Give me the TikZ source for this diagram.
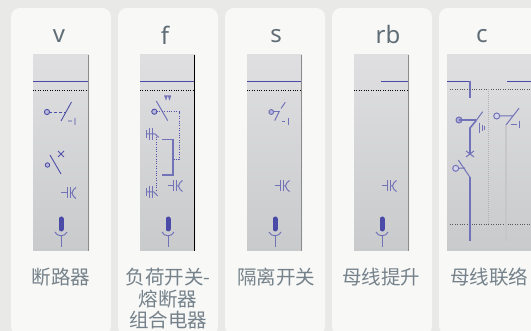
\documentclass[tikz,border=0pt]{standalone}
\usepackage{fontspec}
\setmainfont{Noto Sans}
\newfontfamily\cjk{Noto Sans CJK SC}
\definecolor{pagebg}{HTML}{E9EAE7}
\definecolor{cardbg}{HTML}{F8F8F6}
\definecolor{titlec}{HTML}{5F6D76}
\definecolor{labelc}{HTML}{75828B}
\definecolor{busc}{HTML}{4A4AA8}
\definecolor{symc}{HTML}{4F4FA8}
\definecolor{palec}{HTML}{7272B8}
\definecolor{paneltop}{HTML}{DFDFE2}
\definecolor{panelbot}{HTML}{C9CACC}
\tikzset{
	card/.style={fill=cardbg,rounded corners=9pt,minimum width=100pt,minimum height=327pt,inner sep=0pt},
	panel/.style={top color=paneltop,bottom color=panelbot,minimum height=196pt,inner sep=0pt},
	title/.style={text=titlec,font=\fontsize{24}{26}\selectfont},
	label/.style={text=labelc,align=center,font=\cjk\fontsize{19.5}{21.5}\selectfont},
	sym/.style={draw=symc,line width=0.9pt},
	pale/.style={draw=palec,line width=1pt},
	dots/.style={line width=0.9pt,dash pattern=on 1pt off 1.4pt},
	busline/.style={draw=busc,line width=1.1pt}
}
\newcommand{\capsym}[2]{
	\begin{scope}[shift={(#1,#2)}]
		\draw[pale] (0,0) -- (6,0) (6,-5.5) -- (6,5.5) (9,-5.5) -- (9,5.5);
		\draw[pale] (9,0) -- (11,0) .. controls (12,-3) .. (15,-5.5) (11,0) .. controls (12,3) .. (15,5.5);
	\end{scope}}
\newcommand{\micsym}[1]{
	\begin{scope}[shift={(#1,0)}]
		\draw[busc,line width=5pt,line cap=round] (0,219) -- (0,229);
		\draw[pale] (-6,232) .. controls (-4,237) and (4,237) .. (6,232);
		\draw[pale] (0,235) -- (0,247);
	\end{scope}}
\begin{document}
\begin{tikzpicture}[x=1pt,y=-1pt]
	\useasboundingbox (0,0) rectangle (531,331);
	\clip (0,0) rectangle (531,331);
	\fill[pagebg] (0,0) rectangle (531,331);
	% cards
	\node[card] (cardv) at (61,171.5) {};
	\node[card] (cardf) at (168,171.5) {};
	\node[card] (cards) at (275,171.5) {};
	\node[card] (cardrb) at (382,171.5) {};
	\node[card] (cardc) at (489,171.5) {};
	% panels
	\node[panel,minimum width=56pt] (panelv) at (61,153) {};
	\node[panel,minimum width=55pt] (panelf) at (167.5,153) {};
	\node[panel,minimum width=55pt] (panels) at (274.5,153) {};
	\node[panel,minimum width=55pt] (panelrb) at (381.5,153) {};
	\node[panel,minimum width=90pt] (panelc) at (492,153) {};
	\draw[black!45,line width=1pt] (88.5,55) -- (88.5,251);
	\draw[black,line width=1pt] (194.5,55) -- (194.5,251);
	\draw[black!45,line width=1pt] (301.5,55) -- (301.5,251);
	\draw[black!45,line width=1pt] (408.5,55) -- (408.5,251);
	% titles and labels
	\node[title] (titlev) at (59,36.5) {v};
	\node[title] (titlef) at (165,35) {f};
	\node[title] (titles) at (276,36.5) {s};
	\node[title] (titlerb) at (388,35) {rb};
	\node[title] (titlec) at (482,36.5) {c};
	\node[label] (labelv) at (61,277.5) {断路器};
	\node[label] (labelf) at (168,299) {负荷开关-\\熔断器\\组合电器};
	\node[label] (labels) at (276,277.5) {隔离开关};
	\node[label] (labelrb) at (381,277.5) {母线提升};
	\node[label] (labelc) at (489,277.5) {母线联络};
	% bus lines
	\draw[busline] (33,81.5) -- (88,81.5);
	\draw[busline] (140,81.5) -- (194,81.5);
	\draw[busline] (247,81.5) -- (301,81.5);
	\draw[busline] (381,81.5) -- (408,81.5);
	\draw[dots] (33,90) -- (88,90);
	\draw[dots] (140,90) -- (194,90);
	\draw[dots] (247,90) -- (301,90);
	\draw[dots] (354,90) -- (408,90);
	% v
	\draw[sym,fill=palec!50] (47,112) circle (2.6);
	\draw[sym,densely dashed] (49,112) -- (66,112);
	\draw[sym] (61,121) -- (71.5,102) (68,121) -- (72,121) (75,118) -- (75,125);
	\draw[sym,fill=palec!50] (47.5,165) circle (2.2);
	\draw[sym] (50,155) -- (61,174);
	\draw[sym] (58,151) -- (64,157) (64,151) -- (58,157);
	\capsym{61}{193}
	\micsym{61}
	% f
	\draw[sym,fill=palec!50] (154.3,111.7) circle (2.6);
	\draw[pale] (156.3,101) -- (167.7,120.7);
	\draw[sym,dots] (157,111.7) -- (179.3,111.7) -- (179.3,159) -- (173,159);
	\draw[pale,line width=1.3pt] (162,139.3) -- (173,139.3) -- (173,175) -- (162,175);
	\draw[pale] (164,96) -- (171,96) (165,96) -- (166,99) -- (167,96) (168.5,96) -- (169.5,99) -- (170.5,96);
	\draw[pale] (146.5,130) -- (146.5,138) (149,128) -- (149,140) (152,128) -- (152,140);
	\draw[pale] (146,134) -- (155,134) -- (158.7,137.3);
	\draw[pale] (146.5,188) -- (146.5,196) (149,186) -- (149,198) (152,186) -- (152,198);
	\draw[pale] (146,192) -- (154,192) -- (157.7,196);
	\draw[sym,dots] (156,137) -- (156,190);
	\capsym{167.5}{186}
	\micsym{168}
	% s
	\draw[pale,fill=palec!50] (271.3,112) circle (2.4);
	\draw[pale] (273.5,112) -- (280,112);
	\draw[pale] (274.7,120.7) -- (279,112) (281,108.5) -- (285.3,102.3);
	\draw[pale] (282,121.7) -- (285.3,121.7) (288.7,118) -- (288.7,125);
	\capsym{274.5}{186}
	\micsym{275}
	% rb
	\capsym{381.5}{186}
	\micsym{382}
	% c
	\draw[busline] (447,81.5) -- (470,81.5);
	\draw[pale,line width=1.6pt] (470,81) -- (470,98);
	\draw[busline] (507,81.5) -- (531,81.5);
	\draw[dots,black!65] (450,89) -- (531,89);
	\draw[dots,black!65] (450,224) -- (531,224);
	\draw[black!30,line width=0.7pt,dash pattern=on 1pt off 1pt] (488,89) -- (488,224);
	\draw[pale,fill=palec!60] (459,120) circle (3);
	\draw[pale,line width=1.4pt] (459,120) -- (476,120);
	\draw[pale] (476,120.7) -- (482.7,111.7);
	\draw[pale,line width=1.6pt] (476,120.7) -- (470,128) -- (470,153);
	\draw[pale] (479.3,123) -- (479.3,133) (482.3,125) -- (482.3,131) (484.3,126) -- (484.3,130);
	\draw[pale] (466,151) -- (474,157) (474,151) -- (466,157);
	\draw[pale,fill=palec!30] (455.7,168.3) circle (3);
	\draw[pale] (458.7,168.3) -- (465,168);
	\draw[pale] (458.3,160) -- (470,177.3);
	\draw[pale,line width=1.6pt] (470,177) -- (470,241);
	\draw[pale,fill=palec!30] (496.7,116) circle (3);
	\draw[pale] (499.7,116) -- (513,116) (513,116) -- (519,108.3) (513,116) -- (506,125);
	\draw[pale] (511,124.3) -- (516.7,124.3) (519,121) -- (519,128);
	\draw[black!22,line width=1.6pt] (506,125) -- (506,241);
\end{tikzpicture}
\end{document}
